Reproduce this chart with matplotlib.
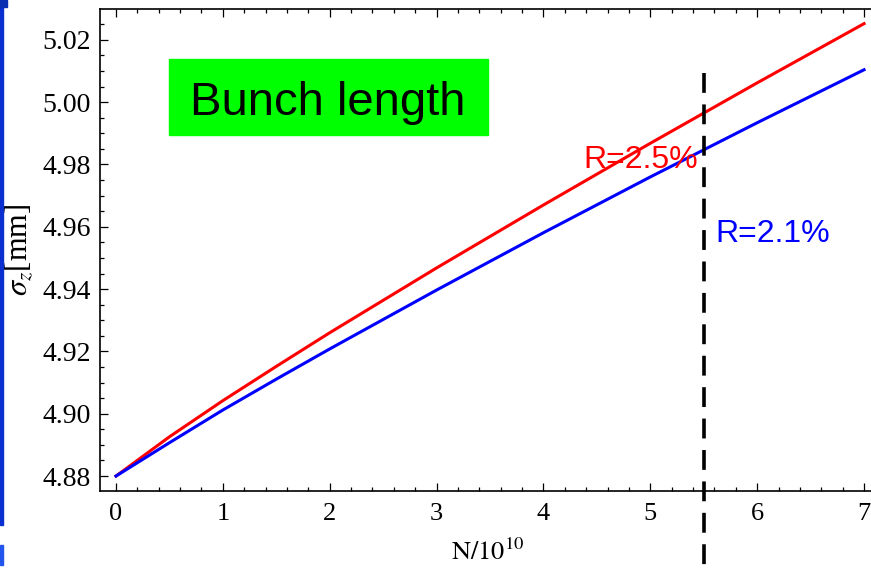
import matplotlib.pyplot as plt
from matplotlib.patches import Rectangle
from matplotlib.ticker import MultipleLocator, FormatStrFormatter

plt.rcParams['mathtext.fontset'] = 'stix'

# bunch length vs bunch population for two R values
n = [0, 0.5, 1, 1.5, 2, 3, 4, 5, 6, 7]
sigma_r25 = [4.880, 4.8926, 4.9042, 4.9152, 4.9260, 4.9468, 4.9670, 4.9868, 5.0062, 5.0252]
sigma_r21 = [4.880, 4.8907, 4.9012, 4.9111, 4.9208, 4.9397, 4.9581, 4.9760, 4.9934, 5.0104]
n_design = 5.5

fig = plt.figure(figsize=(8.71, 5.70), dpi=100)
ax = fig.add_axes([100 / 871, 79.3 / 570, 771 / 871, 481.7 / 570])

ax.plot(n, sigma_r25, color='#ff0000', lw=2.2)
ax.plot(n, sigma_r21, color='#0000ff', lw=2.2)

# design point marker, runs past the frame
ax.plot([n_design, n_design], [5.0094, 4.848], color='black', lw=2.6,
        dashes=(5.5, 3.2), clip_on=False)

ax.set_xlim(-0.1497, 7.065)
ax.set_ylim(4.8753, 5.0299)

ax.xaxis.set_major_locator(MultipleLocator(1))
ax.xaxis.set_minor_locator(MultipleLocator(0.2))
ax.yaxis.set_major_locator(MultipleLocator(0.02))
ax.yaxis.set_minor_locator(MultipleLocator(0.005))
ax.yaxis.set_major_formatter(FormatStrFormatter('%.2f'))

ax.tick_params(which='both', direction='in', top=True, right=False, width=0.9,
               labelfontfamily='Liberation Serif')
ax.tick_params(which='major', length=5.5)
ax.tick_params(which='minor', length=3.2)
ax.tick_params(axis='y', which='major', pad=6.5, labelsize=20)
ax.tick_params(axis='x', which='major', pad=9, labelsize=19)

ax.spines['right'].set_visible(False)
for s in ['left', 'bottom', 'top']:
    ax.spines[s].set_linewidth(1.2)

ax.text(-0.106, 0.5, r'$\sigma_z$[mm]', transform=ax.transAxes, rotation=90,
        ha='center', va='center', fontsize=22, family='Liberation Serif')
ax.text(0.503, -0.13, r'$\mathrm{N/10^{10}}$', transform=ax.transAxes,
        ha='center', va='center', fontsize=19)

ax.text(4.37, 4.979, 'R=2.5%', color='#ff0000', fontsize=23,
        family='Liberation Sans', va='baseline')
ax.text(5.605, 4.955, 'R=2.1%', color='#0000ff', fontsize=23,
        family='Liberation Sans', va='baseline')

# title box
fig.patches.append(Rectangle((169 / 871, 435 / 570), 319 / 871, 76 / 570,
                             transform=fig.transFigure, color='#00ff00', zorder=5))
fig.text(190 / 871, 455 / 570, 'Bunch length', fontsize=34,
         family='Liberation Sans', va='baseline', zorder=6)

# label of the panel above, cut by the top edge
fig.text(0.543, 1 - 4 / 570, r'$\mathrm{N/10^{10}}$', ha='center', va='bottom',
         fontsize=19, color='#555555')

# slide border strip on the left
fig.patches.append(Rectangle((0, 45 / 570), 2.5 / 871, 525 / 570,
                             transform=fig.transFigure, color='#0a2fd0'))
fig.patches.append(Rectangle((0, 563 / 570), 7 / 871, 7 / 570,
                             transform=fig.transFigure, color='#0a2fb0'))
fig.patches.append(Rectangle((0, 5 / 570), 3 / 871, 20 / 570,
                             transform=fig.transFigure, color='#2255ee'))

fig.savefig('out.png', dpi=100)
